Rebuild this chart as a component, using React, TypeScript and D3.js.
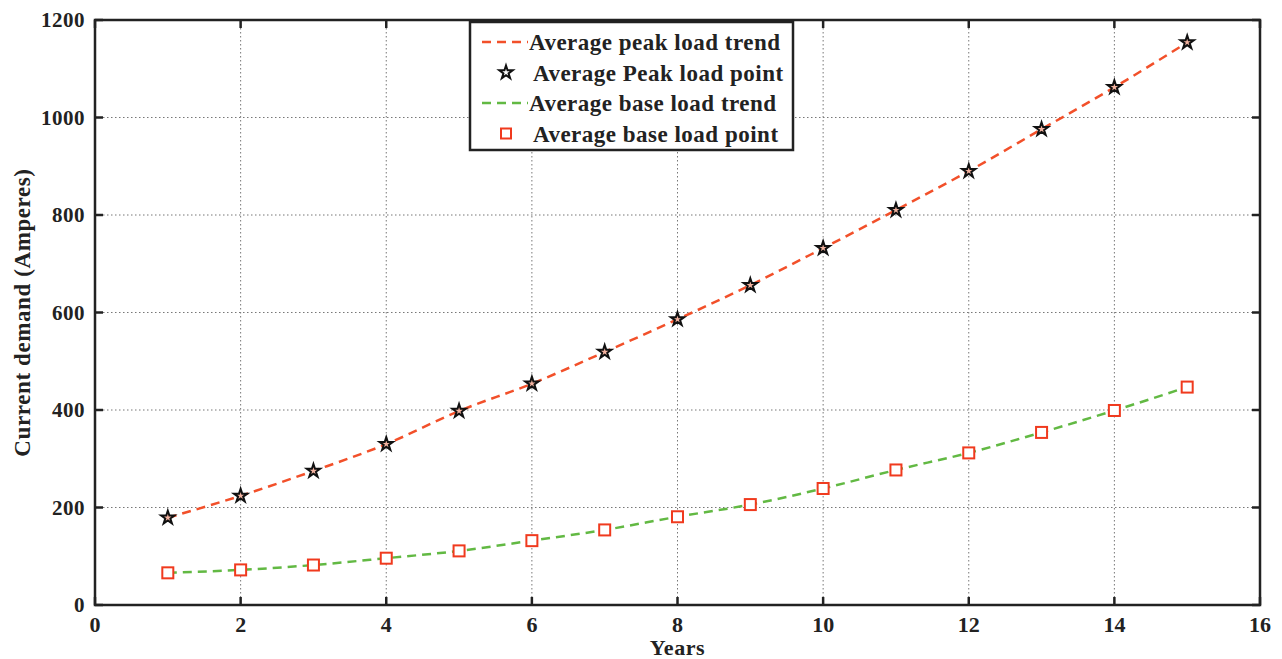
import { useEffect, useRef } from 'react';
import * as d3 from 'd3';

// values
const years = [1, 2, 3, 4, 5, 6, 7, 8, 9, 10, 11, 12, 13, 14, 15];
const peakLoad = [179, 224, 275, 330, 398, 454, 519, 586, 656, 732, 810, 890, 976, 1062, 1154];
const baseLoad = [66, 72, 82, 96, 111, 132, 154, 181, 206, 239, 277, 312, 354, 399, 447];
const xTicks = [0, 2, 4, 6, 8, 10, 12, 14, 16];
const yTicks = [0, 200, 400, 600, 800, 1000, 1200];
const legendLabels = [
  'Average peak load trend',
  'Average Peak load point',
  'Average base load trend',
  'Average base load point',
];

const W = 1282;
const H = 659;
const margin = { top: 20, right: 22, bottom: 54, left: 95 };
const FONT = '"Liberation Serif", "DejaVu Serif", serif';
const PEAK_COLOR = '#f2502a';
const BASE_COLOR = '#62b943';

const App = () => {
  const ref = useRef<SVGSVGElement | null>(null);

  useEffect(() => {
    document.body.style.margin = '0';
    const svg = d3.select(ref.current);
    svg.selectAll('*').remove();

    const iw = W - margin.left - margin.right;
    const ih = H - margin.top - margin.bottom;

    const x = d3.scaleLinear().domain([0, 16]).range([0, iw]);
    const y = d3.scaleLinear().domain([0, 1200]).range([ih, 0]);

    const g = svg.append('g').attr('transform', `translate(${margin.left},${margin.top})`);

    // dotted grid
    g.append('g')
      .selectAll('line')
      .data(xTicks.slice(1, -1))
      .enter().append('line')
      .attr('x1', d => x(d)).attr('x2', d => x(d))
      .attr('y1', 0).attr('y2', ih)
      .attr('stroke', '#777').attr('stroke-width', 1)
      .attr('stroke-dasharray', '1.5,2.5');
    g.append('g')
      .selectAll('line')
      .data(yTicks.slice(1, -1))
      .enter().append('line')
      .attr('y1', d => y(d)).attr('y2', d => y(d))
      .attr('x1', 0).attr('x2', iw)
      .attr('stroke', '#777').attr('stroke-width', 1)
      .attr('stroke-dasharray', '1.5,2.5');

    // inner ticks on all four sides
    const tl = 8;
    const ticks = g.append('g').attr('stroke', '#222').attr('stroke-width', 2.5);
    xTicks.forEach(t => {
      ticks.append('line').attr('x1', x(t)).attr('x2', x(t)).attr('y1', ih).attr('y2', ih - tl);
      ticks.append('line').attr('x1', x(t)).attr('x2', x(t)).attr('y1', 0).attr('y2', tl);
    });
    yTicks.forEach(t => {
      ticks.append('line').attr('y1', y(t)).attr('y2', y(t)).attr('x1', 0).attr('x2', tl);
      ticks.append('line').attr('y1', y(t)).attr('y2', y(t)).attr('x1', iw).attr('x2', iw - tl);
    });

    g.append('rect')
      .attr('width', iw).attr('height', ih)
      .attr('fill', 'none').attr('stroke', '#222').attr('stroke-width', 2.5);

    // tick labels
    g.append('g')
      .selectAll('text')
      .data(xTicks)
      .enter().append('text')
      .attr('x', d => x(d)).attr('y', ih + 27)
      .attr('text-anchor', 'middle')
      .attr('font-family', FONT).attr('font-weight', 'bold').attr('font-size', 22)
      .attr('fill', '#222')
      .text(d => d);
    g.append('g')
      .selectAll('text')
      .data(yTicks)
      .enter().append('text')
      .attr('x', -10).attr('y', d => y(d) + 7)
      .attr('text-anchor', 'end')
      .attr('font-family', FONT).attr('font-weight', 'bold').attr('font-size', 21)
      .attr('letter-spacing', 0.5)
      .attr('fill', '#222')
      .text(d => d);

    // axis titles
    svg.append('text')
      .attr('x', margin.left + x(8)).attr('y', 655)
      .attr('text-anchor', 'middle')
      .attr('font-family', FONT).attr('font-weight', 'bold').attr('font-size', 22)
      .attr('letter-spacing', 0.6)
      .attr('fill', '#222')
      .text('Years');
    svg.append('text')
      .attr('transform', `translate(30,${margin.top + ih / 2}) rotate(-90)`)
      .attr('text-anchor', 'middle')
      .attr('font-family', FONT).attr('font-weight', 'bold').attr('font-size', 23)
      .attr('letter-spacing', 0.6)
      .attr('fill', '#222')
      .text('Current demand (Amperes)');

    // trend lines
    const line = d3.line<number>()
      .x((_, i) => x(years[i]))
      .y(d => y(d))
      .curve(d3.curveMonotoneX);

    g.append('path')
      .datum(peakLoad)
      .attr('d', line)
      .attr('fill', 'none').attr('stroke', PEAK_COLOR).attr('stroke-width', 2.5)
      .attr('stroke-dasharray', '9,6');
    g.append('path')
      .datum(baseLoad)
      .attr('d', line)
      .attr('fill', 'none').attr('stroke', BASE_COLOR).attr('stroke-width', 2.5)
      .attr('stroke-dasharray', '9,6');

    // markers
    const star = d3.symbol().type(d3.symbolStar).size(55)();
    g.append('g')
      .selectAll('path')
      .data(peakLoad)
      .enter().append('path')
      .attr('d', star)
      .attr('transform', (d, i) => `translate(${x(years[i])},${y(d)})`)
      .attr('fill', '#f3b3a0').attr('stroke', '#111').attr('stroke-width', 2);
    g.append('g')
      .selectAll('rect')
      .data(baseLoad)
      .enter().append('rect')
      .attr('x', (_, i) => x(years[i]) - 5.5)
      .attr('y', d => y(d) - 5.5)
      .attr('width', 11).attr('height', 11)
      .attr('fill', '#fff').attr('stroke', '#f03a1e').attr('stroke-width', 2);

    // legend
    const lg = svg.append('g').attr('transform', 'translate(470,22)');
    lg.append('rect')
      .attr('width', 323).attr('height', 128)
      .attr('fill', '#fff').attr('stroke', '#222').attr('stroke-width', 2.5);
    legendLabels.forEach((label, i) => {
      const ly = 20 + i * 30.5;
      if (i === 0 || i === 2) {
        lg.append('line')
          .attr('x1', 12).attr('x2', 58).attr('y1', ly).attr('y2', ly)
          .attr('stroke', i === 0 ? PEAK_COLOR : BASE_COLOR).attr('stroke-width', 2.5)
          .attr('stroke-dasharray', '9,6');
      } else if (i === 1) {
        lg.append('path').attr('d', star)
          .attr('transform', `translate(36,${ly})`)
          .attr('fill', '#fff').attr('stroke', '#111').attr('stroke-width', 2);
      } else {
        lg.append('rect')
          .attr('x', 31).attr('y', ly - 5).attr('width', 10).attr('height', 10)
          .attr('fill', '#fff').attr('stroke', '#f03a1e').attr('stroke-width', 2);
      }
      lg.append('text')
        .attr('x', i % 2 === 0 ? 59 : 63).attr('y', ly + 8)
        .attr('font-family', FONT).attr('font-weight', 'bold').attr('font-size', 23)
        .attr('letter-spacing', 0.5)
        .attr('fill', '#222')
        .text(label);
    });
  }, []);

  return <svg ref={ref} width={W} height={H} style={{ display: 'block', background: '#fff' }} />;
};

export default App;
